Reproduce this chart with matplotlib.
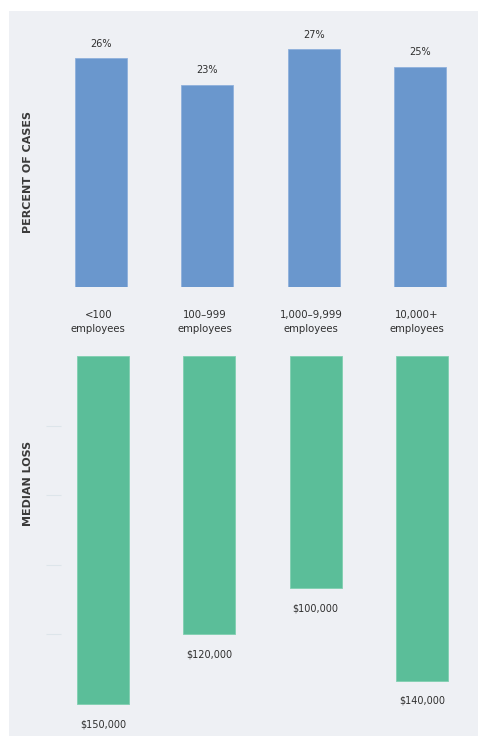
import matplotlib.pyplot as plt
from matplotlib.patches import Rectangle

# data
categories = ['<100\nemployees', '100–999\nemployees', '1,000–9,999\nemployees', '10,000+\nemployees']
pct_cases = [26, 23, 27, 25]
median_loss = [150000, 120000, 100000, 140000]
pct_labels = ['26%', '23%', '27%', '25%']
loss_labels = ['$150,000', '$120,000', '$100,000', '$140,000']

W, H = 478, 736
bg = '#eef0f4'
blue = '#6a97cd'
green = '#5bbe99'
txt = '#2f2f2f'
plt.rcParams['font.family'] = ['DejaVu Sans']

fig = plt.figure(figsize=(W / 100, H / 100), dpi=100)
fig.patch.set_facecolor('white')
fig.add_artist(Rectangle((9 / W, 0), 1, 1 - 11 / H, transform=fig.transFigure,
                         facecolor=bg, edgecolor='none', zorder=0))

x = list(range(len(categories)))

# top panel: percent of cases
ax1 = fig.add_axes([61 / W, 1 - 287 / H, (W - 61) / W, (287 - 11) / H])
ax1.bar(x, pct_cases, width=0.49, color=blue, edgecolor='#8fb1dc', linewidth=0.6)
ax1.set_xlim(-0.376, 3.546)
ax1.set_ylim(0, (287 - 11) / 8.8)
for xi, v, lab in zip(x, pct_cases, pct_labels):
    ax1.annotate(lab, (xi, v), xytext=(0, 10.5), textcoords='offset points',
                 ha='center', va='center', fontsize=7, color=txt)
ax1.axis('off')

# bottom panel: median loss (hanging bars)
ax2 = fig.add_axes([61 / W, 0, (W - 61) / W, (H - 356) / H])
ax2.set_facecolor('none')
ax2.bar(x, median_loss, width=0.49, color=green, edgecolor='#7fcfb0', linewidth=0.6)
# bars sit 2px right of the top ones
ax2.set_xlim(-0.376 - 2 / 106.3, 3.546 - 2 / 106.3)
ax2.set_ylim((H - 356) / 2.32 * 1000, 0)
for xi, v, lab in zip(x, median_loss, loss_labels):
    ax2.annotate(lab, (xi, v), xytext=(0, -14.5), textcoords='offset points',
                 ha='center', va='center', fontsize=7, color=txt)
for s in ax2.spines.values():
    s.set_visible(False)
ax2.set_xticks([])
ax2.set_yticks([30000, 60000, 90000, 120000])
ax2.set_yticklabels([])
ax2.tick_params(axis='y', length=11, width=0.8, color='#dde5ea', pad=0)

# category labels between the panels
for xi, cat in zip(x, categories):
    ax1.annotate(cat, (xi, 0), xytext=(-2, -25), textcoords='offset points',
                 ha='center', va='center', fontsize=7.3, color=txt, linespacing=1.45)

fig.text(28 / W, 1 - 172 / H, 'PERCENT OF CASES', rotation=90, ha='center', va='center',
         fontsize=8, fontweight='bold', color='#3a3a3a')
fig.text(28 / W, 1 - 483 / H, 'MEDIAN LOSS', rotation=90, ha='center', va='center',
         fontsize=8, fontweight='bold', color='#3a3a3a')

plt.savefig('out.png', dpi=100, facecolor=fig.get_facecolor())
